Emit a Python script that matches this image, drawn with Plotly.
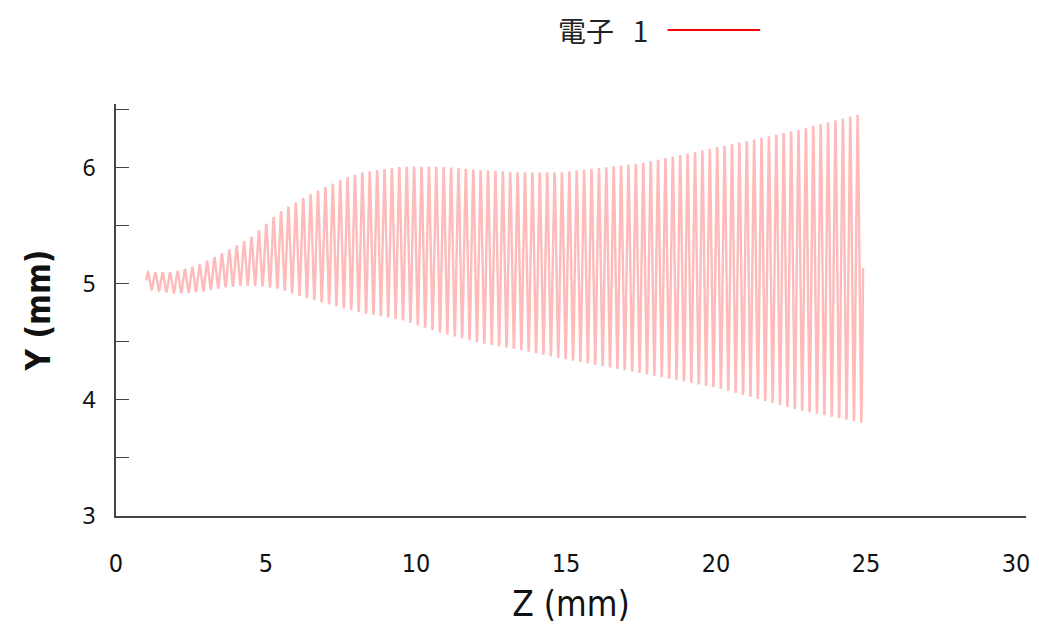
import numpy as np
import plotly.graph_objects as go

# Electron 1 trajectory: envelope of the gyration, read at sample positions along Z (mm)
env_z = [1.0, 1.9, 2.75, 3.6, 4.5, 5.4, 6.3, 7.6, 8.2, 9.5, 10.8, 12.15, 13.5, 14.8, 17.5, 20.1, 22.8, 24.9]
env_upper = [5.10, 5.10, 5.16, 5.27, 5.40, 5.61, 5.75, 5.91, 5.96, 6.01, 6.01, 5.98, 5.96, 5.96, 6.04, 6.18, 6.33, 6.47]
env_lower = [4.96, 4.92, 4.93, 4.97, 4.99, 4.96, 4.88, 4.79, 4.75, 4.69, 4.58, 4.49, 4.43, 4.36, 4.23, 4.10, 3.91, 3.80]
gyrations = 97              # number of turns between the first and last Z sample
samples_per_turn = 24       # output time steps per turn

series_name = "電子 1"
x_ticks = [0, 5, 10, 15, 20, 25, 30]
y_ticks = [3, 4, 5, 6]

# Trajectory points at each output step: Y swings between the envelopes while Z advances
n = gyrations * samples_per_turn + 1
z = np.linspace(env_z[0], env_z[-1], n)
up = np.interp(z, env_z, env_upper)
lo = np.interp(z, env_z, env_lower)
phase = np.arange(n) * (2 * np.pi / samples_per_turn)
y = (up + lo) / 2 + (up - lo) / 2 * np.sin(phase)

fig = go.Figure()
fig.add_trace(go.Scatter(
    x=z, y=y, mode="lines", name=series_name, showlegend=False,
    line=dict(color="#ffbaba", width=2.4),
))

axis_col = "#444444"
narrow = "DejaVu Sans Condensed, DejaVu Sans, sans-serif"
fig.update_layout(
    width=1039, height=632,
    margin=dict(l=116, r=9, t=104, b=116),
    paper_bgcolor="white", plot_bgcolor="white",
    showlegend=False,
    xaxis=dict(
        range=[0, 30.33], tickvals=x_ticks, ticks="", showgrid=False, zeroline=False,
        showline=True, linecolor=axis_col, linewidth=1.5, ticklabelstandoff=24,
        tickfont=dict(family=narrow, size=25, color="#111"),
        title=dict(text="Z (mm)", standoff=15,
                   font=dict(family=narrow, size=35, color="#111")),
    ),
    yaxis=dict(
        range=[3, 6.55], tickvals=y_ticks, ticks="inside", ticklen=13, tickwidth=1.3,
        tickcolor=axis_col, showgrid=False, zeroline=False,
        showline=True, linecolor=axis_col, linewidth=1.5, ticklabelstandoff=14,
        minor=dict(dtick=0.5, tick0=3, ticks="inside", ticklen=13, tickwidth=1.3, tickcolor=axis_col),
        tickfont=dict(family="Noto Sans, Open Sans, sans-serif", size=23, color="#111"),
        title=dict(text="<b>Y (mm)</b>", standoff=22,
                   font=dict(family=narrow, size=33, color="#111")),
    ),
)

# Key at the top: label text followed by the line sample (positions in domain fractions)
key_y = (516 - 30) / 412
fig.add_annotation(
    x=(652 - 116) / 914, y=key_y, xref="x domain", yref="y domain",
    text=series_name.replace(" ", "\u00a0\u00a0\u00a0"), showarrow=False,
    xanchor="right", yanchor="middle",
    font=dict(family="Noto Sans CJK JP", size=28, color="#222"),
)
fig.add_shape(
    type="line", xref="x domain", yref="y domain",
    x0=(670 - 116) / 914, x1=(763 - 116) / 914, y0=key_y, y1=key_y,
    line=dict(color="#ff0000", width=2),
)

fig.write_html("out.html")
